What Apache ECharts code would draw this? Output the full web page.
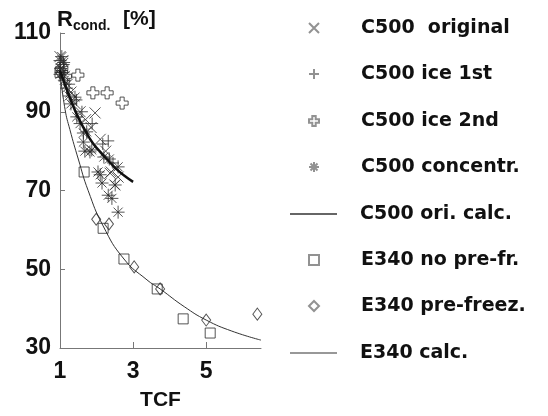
<!DOCTYPE html>
<html>
<head>
<meta charset="utf-8">
<script src="https://cdn.jsdelivr.net/npm/echarts@6/dist/echarts.min.js"></script>
<style>
  html, body { margin: 0; padding: 0; background: #fff; }
  #chart { width: 548px; height: 416px; }
</style>
</head>
<body>
<div id="chart"></div>
<script>
// values: [TCF, R_cond %]
const c500Original = [
  [1.0, 104], [1.03, 101], [1.08, 103], [1.12, 99], [1.2, 97], [1.3, 95],
  [1.42, 92], [1.55, 90], [1.7, 88], [1.85, 86], [1.96, 89.7], [2.1, 83],
  [2.25, 80], [2.37, 74.4], [2.5, 71.4], [2.59, 73.4], [2.4, 74.7]
];
const c500Ice1 = [
  [1.02, 100], [1.1, 102], [1.25, 97], [1.45, 93], [1.6, 90], [1.88, 87],
  [2.17, 81.8], [2.32, 82.6], [2.45, 77]
];
const c500Ice2 = [
  [1.05, 101], [1.15, 99], [1.49, 99.3], [1.9, 94.8], [2.29, 94.8], [2.7, 92.2]
];
const c500Conc = [
  [1.0, 103], [1.02, 101], [1.05, 104], [1.08, 100], [1.1, 102.5], [1.0, 99.5],
  [1.12, 98], [1.18, 96], [1.25, 94], [1.3, 92], [1.41, 93.7], [1.46, 88.7],
  [1.55, 87], [1.64, 84.6], [1.73, 84.9], [1.64, 82.3], [1.68, 80], [1.82, 79.8],
  [1.87, 80.3], [2.04, 74.7], [2.1, 74], [2.15, 71.9], [2.32, 68.8], [2.42, 68],
  [2.51, 71.4], [2.59, 64.5], [2.59, 76], [2.35, 78], [2.2, 78.5]
];
const c500Calc = [
  [1.0, 100.5], [1.15, 96.5], [1.33, 92.2], [1.5, 88.5], [1.68, 85.4], [1.9, 82],
  [2.18, 79], [2.4, 76.8], [2.6, 75], [2.8, 73.5], [3.0, 72.2]
];
const e340NoPre = [
  [1.0, 100], [1.66, 74.7], [2.18, 60.4], [2.75, 52.6], [3.66, 45], [4.37, 37.4], [5.11, 33.8]
];
const e340Pre = [
  [1.0, 100], [1.99, 62.7], [2.34, 61.5], [3.03, 50.6], [3.74, 45], [5.0, 37.1], [6.4, 38.6]
];
const e340Calc = [
  [1.0, 100], [1.14, 90.5], [1.27, 85.5], [1.5, 78], [1.77, 70], [2.18, 61],
  [2.75, 52.6], [3.38, 47.3], [3.74, 45], [4.4, 40.5], [5.0, 37.1], [5.7, 34.3], [6.5, 32]
];
const xTicks = [1, 3, 5];
const yTicks = [30, 50, 70, 90, 110];

const names = ['C500  original', 'C500 ice 1st', 'C500 ice 2nd', 'C500 concentr.',
  'C500 ori. calc.', 'E340 no pre-fr.', 'E340 pre-freez.', 'E340 calc.'];

const sym = {
  cross: 'path://M0,0L10,10M10,0L0,10',
  plus: 'path://M5,0L5,10M0,5L10,5',
  hollowPlus: 'path://M3.3,0H6.7V3.3H10V6.7H6.7V10H3.3V6.7H0V3.3H3.3Z',
  star: 'path://M5,0L5,10M0,5L10,5M1.5,1.5L8.5,8.5M8.5,1.5L1.5,8.5'
};

const ink = '#2a2a2a';
const markStyle = { color: 'transparent', borderColor: ink, borderWidth: 1 };

function scatter(name, data, symbol, size) {
  return {
    name: name, type: 'scatter', data: data, symbol: symbol, symbolSize: size,
    itemStyle: markStyle, z: 3
  };
}

const legendFont = { fontFamily: 'DejaVu Sans', fontWeight: 'bold', fontSize: 19, color: '#111', lineHeight: 24 };
const rowY = [28, 74, 121, 167, 214, 260, 306, 353];
const lineThick = [0, 0, 0, 0, 1.6, 0, 0, 1];

const legends = names.map(function (n, i) {
  const line = lineThick[i] > 0;
  return {
    data: [line ? { name: n, icon: 'rect' } : n],
    orient: 'vertical',
    left: line ? 290 : 308,
    top: rowY[i] - 12,
    padding: 0,
    selectedMode: false,
    itemWidth: line ? 47 : 10,
    itemHeight: line ? lineThick[i] : 10,
    itemStyle: line ? { color: '#333', borderWidth: 0 } : { borderColor: '#777' },
    textStyle: Object.assign({ padding: [0, 0, 0, line ? 18 : 37] }, legendFont)
  };
});

const axisFont = { fontFamily: 'Liberation Sans', fontWeight: 'bold', fontSize: 23, color: '#111' };

const chart = echarts.init(document.getElementById('chart'));
chart.setOption({
  animation: false,
  backgroundColor: '#fff',
  grid: { left: 60, top: 33, right: 287, bottom: 68 },
  title: [
    { text: 'R', left: 57, top: 9, padding: 0, textStyle: { fontFamily: 'Liberation Sans', fontWeight: 'bold', fontSize: 22, color: '#111' } },
    { text: 'cond.', left: 73, top: 19, padding: 0, textStyle: { fontFamily: 'Liberation Sans', fontWeight: 'bold', fontSize: 14, color: '#111' } },
    { text: '[%]', left: 123, top: 9, padding: 0, textStyle: { fontFamily: 'Liberation Sans', fontWeight: 'bold', fontSize: 21, color: '#111' } }
  ],
  legend: legends,
  xAxis: {
    type: 'value', min: 1, max: 6.5, interval: 2,
    name: 'TCF', nameLocation: 'middle', nameGap: 42,
    nameTextStyle: { fontFamily: 'Liberation Sans', fontWeight: 'bold', fontSize: 21, color: '#111' },
    axisLine: { lineStyle: { color: '#777', width: 1 } },
    axisTick: { inside: true, length: 6, lineStyle: { color: '#777' }, customValues: [3, 5] },
    axisLabel: Object.assign({ margin: 12, customValues: xTicks }, axisFont),
    splitLine: { show: false }
  },
  yAxis: {
    type: 'value', min: 30, max: 110, interval: 20,
    axisLine: { show: true, lineStyle: { color: '#777', width: 1 } },
    axisTick: { show: true, inside: true, length: 5, lineStyle: { color: '#777' } },
    axisLabel: Object.assign({ margin: 9, customValues: yTicks }, axisFont),
    splitLine: { show: false }
  },
  series: [
    scatter(names[0], c500Original, sym.cross, 11),
    scatter(names[1], c500Ice1, sym.plus, 12),
    scatter(names[2], c500Ice2, sym.hollowPlus, 12),
    scatter(names[3], c500Conc, sym.star, 13),
    {
      name: names[4], type: 'line', data: c500Calc, smooth: true, symbol: 'none',
      lineStyle: { color: '#111', width: 2.5 }, itemStyle: { color: '#111' }, z: 4
    },
    scatter(names[5], e340NoPre, 'rect', 10),
    scatter(names[6], e340Pre, 'diamond', [9, 12]),
    {
      name: names[7], type: 'line', data: e340Calc, smooth: true, symbol: 'none',
      lineStyle: { color: '#333', width: 1 }, itemStyle: { color: '#333' }, z: 2
    }
  ]
});
</script>
</body>
</html>
